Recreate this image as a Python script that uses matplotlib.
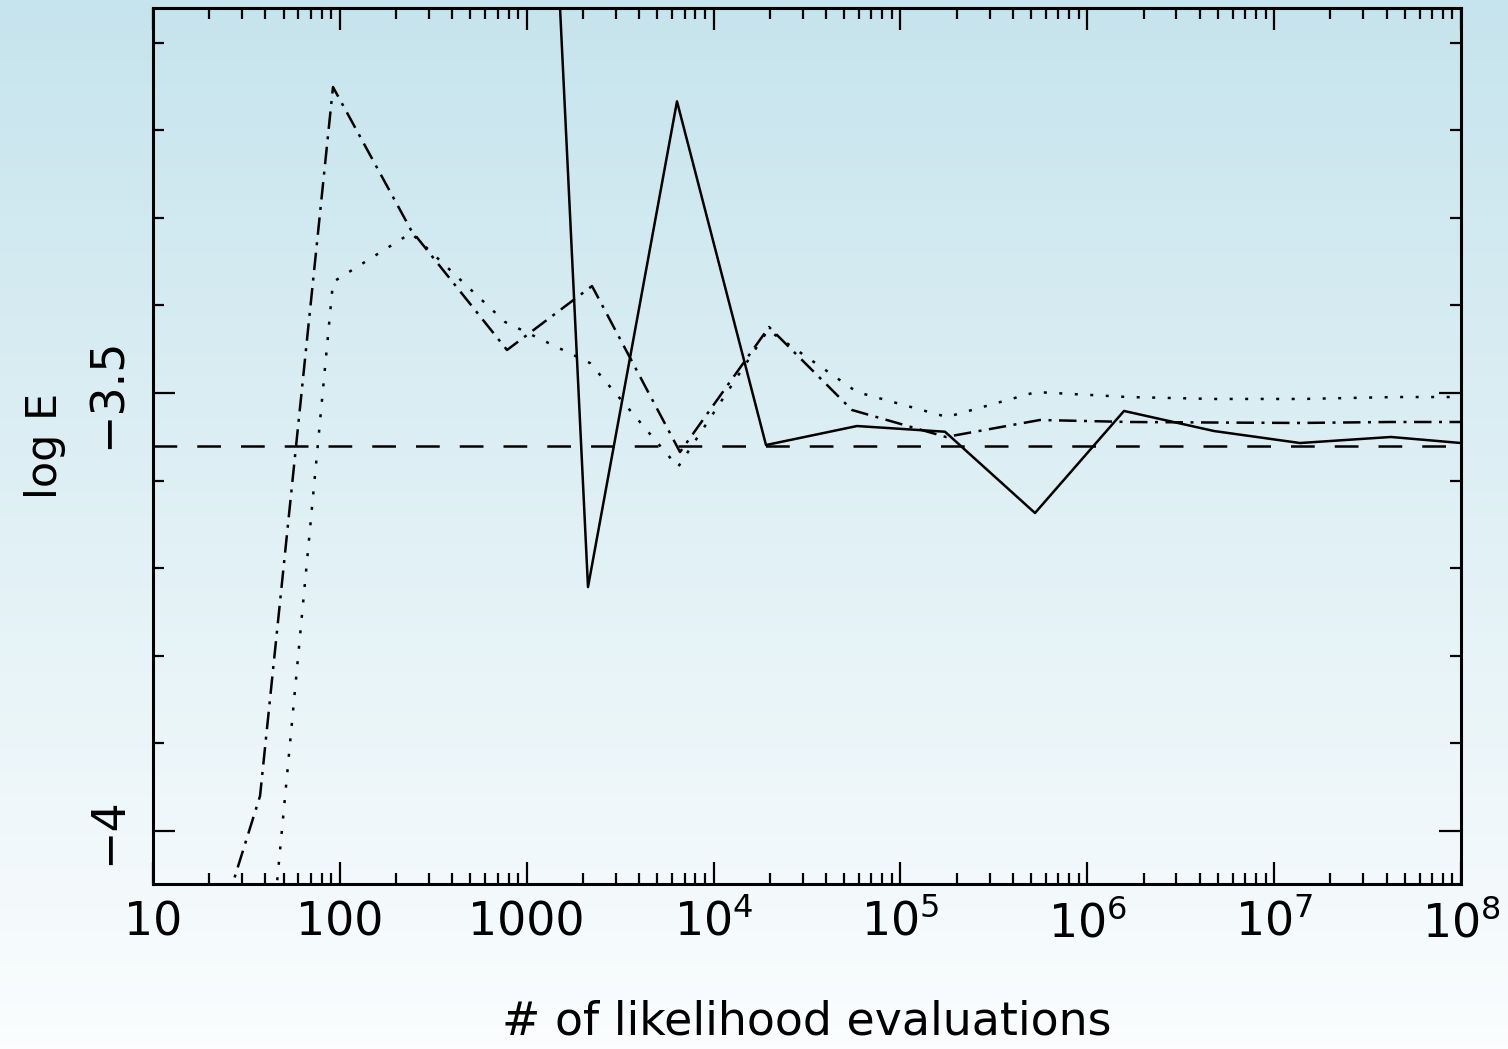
import matplotlib
matplotlib.use('Agg')
import matplotlib.pyplot as plt
from matplotlib.ticker import FixedLocator, FixedFormatter, MultipleLocator
import numpy as np

# number of likelihood evaluations / log evidence for each run
x_solid = [765.4, 2128, 6371, 19080, 58550, 173200, 525000, 1.572e6, 4.764e6, 1.375e7, 4.221e7, 1e8]
y_solid = [-1.76, -3.7215, -3.1671, -3.5594, -3.5377, -3.5442, -3.637, -3.5205, -3.5434, -3.5571, -3.5502, -3.5571]

x_dashdot = [14.8, 37.4, 91.9, 240.3, 784.5, 2236, 6612, 19810, 55050, 175300, 558300,
             1.692e6, 4.825e6, 1.375e7, 4.168e7, 1e8]
y_dashdot = [-4.235, -3.96, -3.1507, -3.3139, -3.4509, -3.3779, -3.5674, -3.4247, -3.5194,
             -3.5502, -3.5308, -3.5331, -3.5337, -3.5342, -3.5331, -3.5331]

x_dotted = [37.4, 91.9, 240.3, 765.4, 2181, 6451, 19560, 58550, 177500, 531500,
            1.651e6, 4.764e6, 1.409e7, 4.433e7, 1e8]
y_dotted = [-4.267, -3.3733, -3.3174, -3.4189, -3.4658, -3.5845, -3.4281, -3.4989, -3.5274,
            -3.4989, -3.5046, -3.5068, -3.5068, -3.5046, -3.5046]

true_logE = -3.5605

xtick_vals = [10, 100, 1000, 1e4, 1e5, 1e6, 1e7, 1e8]
xtick_labels = ['10', '100', '1000', r'$10^4$', r'$10^5$', r'$10^6$', r'$10^7$', r'$10^8$']
ytick_vals = [-4, -3.5]
ytick_labels = ['\u22124', '\u22123.5']

fig = plt.figure(figsize=(15.08, 10.49), dpi=100)

# gradient background over the whole figure
bg = fig.add_axes([0, 0, 1, 1], zorder=-1)
top = np.array([198, 228, 237]) / 255.0
bottom = np.array([251, 253, 254]) / 255.0
t = np.linspace(0, 1, 256)[:, None, None]
grad = top * (1 - t) + bottom * t
bg.imshow(np.repeat(grad, 2, axis=1), aspect='auto', extent=[0, 1, 0, 1], origin='upper')
bg.axis('off')

ax = fig.add_axes([153 / 1508, 1 - 884 / 1049, 1308 / 1508, 876 / 1049])
ax.set_facecolor('none')

lw = 1.8
ax.plot(x_solid, y_solid, color='black', lw=lw, linestyle='-')
ax.plot(x_dashdot, y_dashdot, color='black', lw=lw, linestyle=(0, (7, 3, 1.2, 3)))
ax.plot(x_dotted, y_dotted, color='black', lw=lw, linestyle=(0, (1.2, 5)))
ax.axhline(true_logE, color='black', lw=lw, linestyle=(0, (9.5, 8)))

ax.set_xscale('log')
ax.set_xlim(10, 1e8)
ax.set_ylim(-4.0605, -3.0605)

ax.xaxis.set_major_locator(FixedLocator(xtick_vals))
ax.xaxis.set_major_formatter(FixedFormatter(xtick_labels))
ax.yaxis.set_major_locator(FixedLocator(ytick_vals))
ax.yaxis.set_major_formatter(FixedFormatter(ytick_labels))
ax.yaxis.set_minor_locator(MultipleLocator(0.1))

ax.tick_params(which='both', direction='in', top=True, right=True, width=1.6, colors='black')
ax.tick_params(which='major', length=16)
ax.tick_params(which='minor', length=8)
ax.tick_params(axis='x', which='major', labelsize=33, pad=12)
ax.tick_params(axis='y', which='major', labelsize=33, pad=16)
for lab in ax.get_yticklabels():
    lab.set_rotation(90)
    lab.set_va('center')

for s in ax.spines.values():
    s.set_linewidth(2.2)

ax.set_xlabel('# of likelihood evaluations', fontsize=33, labelpad=38)
ax.set_ylabel('log E', fontsize=31, labelpad=14)

fig.savefig('out.png', dpi=100)
